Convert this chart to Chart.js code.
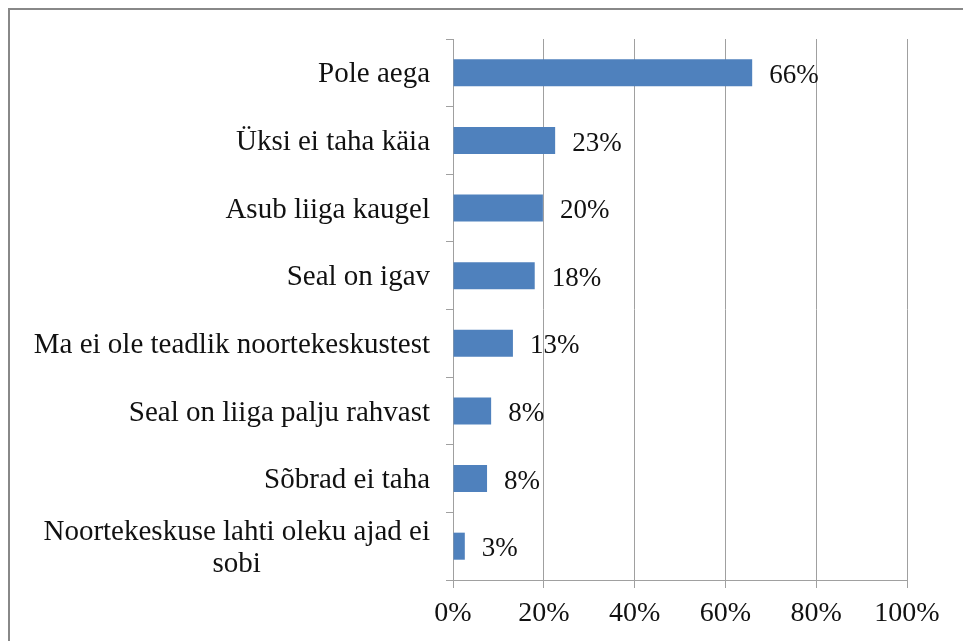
<!DOCTYPE html>
<html>
<head>
<meta charset="utf-8">
<script src="https://cdn.jsdelivr.net/npm/chart.js@4.4.1/dist/chart.umd.min.js"></script>
<style>
  html, body { margin: 0; padding: 0; background: #fff; overflow: hidden; }
  #wrap { position: relative; width: 963px; height: 641px; }
  #frame {
    position: absolute; left: 8px; top: 8px; width: 1000px; height: 700px;
    border-top: 2px solid #888; border-left: 2px solid #888;
  }
  canvas { position: absolute; left: 0; top: 0; }
</style>
</head>
<body>
<div id="wrap">
  <div id="frame"></div>
  <canvas id="chart" width="963" height="641"></canvas>
</div>
<script>
const categories = [
  'Pole aega',
  'Üksi ei taha käia',
  'Asub liiga kaugel',
  'Seal on igav',
  'Ma ei ole teadlik noortekeskustest',
  'Seal on liiga palju rahvast',
  'Sõbrad ei taha',
  ['Noortekeskuse lahti oleku ajad ei', 'sobi']
];
const shares = [65.9, 22.5, 19.8, 18.0, 13.2, 8.4, 7.5, 2.6];
const xTicks = [0, 20, 40, 60, 80, 100];

const FONT = '"Liberation Serif", "Times New Roman", serif';
const gridGray = '#a0a0a0';

// category names on the left: single lines right-aligned, wrapped ones centred as a block
const categoryLabels = {
  id: 'categoryLabels',
  afterDraw(chart) {
    const ys = chart.scales.y;
    const ctx = chart.ctx;
    ctx.save();
    ctx.font = '29px ' + FONT;
    ctx.fillStyle = '#111';
    ctx.textAlign = 'center';
    ctx.textBaseline = 'middle';
    const right = ys.right - 23;
    const lh = 32;
    categories.forEach((lab, i) => {
      const lines = Array.isArray(lab) ? lab : [lab];
      const maxW = Math.max(...lines.map(l => ctx.measureText(l).width));
      const cx = right - maxW / 2;
      const y0 = ys.getPixelForValue(i) + 2 - (lines.length - 1) * lh / 2;
      lines.forEach((l, k) => ctx.fillText(l, cx, y0 + k * lh));
    });
    ctx.restore();
  }
};

// percent labels after each bar
const valueLabels = {
  id: 'valueLabels',
  afterDatasetsDraw(chart) {
    const ctx = chart.ctx;
    const meta = chart.getDatasetMeta(0);
    ctx.save();
    ctx.font = '27px ' + FONT;
    ctx.fillStyle = '#111';
    ctx.textAlign = 'left';
    ctx.textBaseline = 'middle';
    meta.data.forEach((bar, i) => {
      ctx.fillText(Math.round(shares[i]) + '%', bar.x + 17, bar.y + 3);
    });
    ctx.restore();
  }
};

new Chart(document.getElementById('chart'), {
  type: 'bar',
  data: {
    labels: categories,
    datasets: [{
      data: shares,
      backgroundColor: '#4f81bd',
      borderWidth: 0,
      barPercentage: 0.4,
      categoryPercentage: 1
    }]
  },
  options: {
    indexAxis: 'y',
    responsive: false,
    animation: false,
    layout: { padding: { top: 39, right: 56, left: 0, bottom: 0 } },
    plugins: { legend: { display: false }, tooltip: { enabled: false } },
    scales: {
      x: {
        min: 0, max: 100,
        afterBuildTicks: s => { s.ticks = xTicks.map(v => ({ value: v })); },
        afterFit: s => { s.height = 61; },
        grid: { color: gridGray, lineWidth: 1, drawTicks: true, tickLength: 8 },
        border: { color: gridGray, width: 1 },
        ticks: {
          color: '#111', padding: 9,
          font: { family: FONT, size: 28 },
          callback: v => v + '%'
        }
      },
      y: {
        afterFit: s => { s.width = 453; },
        grid: { offset: true, drawOnChartArea: false, drawTicks: true, tickLength: 7, color: gridGray },
        border: { color: gridGray, width: 1 },
        ticks: { display: false }
      }
    }
  },
  plugins: [categoryLabels, valueLabels]
});
</script>
</body>
</html>
